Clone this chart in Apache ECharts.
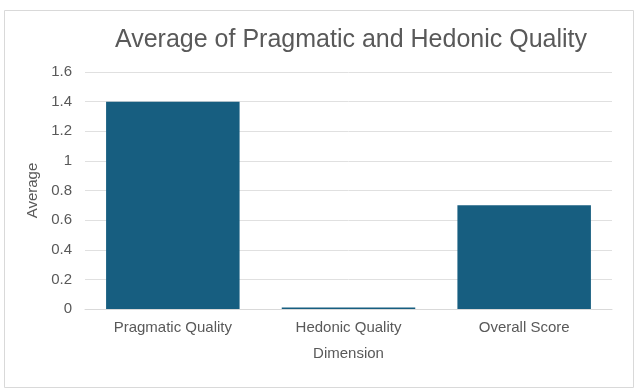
<!DOCTYPE html>
<html>
<head>
<meta charset="utf-8">
<script src="https://cdn.jsdelivr.net/npm/echarts@6/dist/echarts.min.js"></script>
<style>
html,body{margin:0;padding:0;background:#fff;}
#c{width:634px;height:390px;}
</style>
</head>
<body>
<div id="c"></div>
<script>
const categories = ["Pragmatic Quality", "Hedonic Quality", "Overall Score"];
const averages = [1.4, 0.01, 0.70];
const titleText = "Average of Pragmatic and Hedonic Quality";
const xName = "Dimension";
const yName = "Average";

const chart = echarts.init(document.getElementById('c'), null, {renderer: 'canvas'});
const font = "'Liberation Sans', Arial, Helvetica, sans-serif";
chart.setOption({
  animation: false,
  textStyle: {fontFamily: font},
  graphic: [{
    type: 'rect', left: 2, top: 8, silent: true,
    shape: {width: 629, height: 377},
    style: {fill: 'none', stroke: '#d9d9d9', lineWidth: 1}
  }],
  title: {
    text: titleText, left: 346, top: 23, textAlign: 'center',
    textStyle: {fontFamily: font, fontSize: 25, fontWeight: 'normal', color: '#595959'}
  },
  grid: {left: 85, right: 22, top: 72, bottom: 81},
  xAxis: {
    type: 'category', data: categories,
    name: xName, nameLocation: 'middle', nameGap: 37,
    nameTextStyle: {fontFamily: font, fontSize: 15, color: '#595959'},
    axisLine: {show: true, lineStyle: {color: '#d9d9d9'}},
    axisTick: {show: false},
    axisLabel: {fontFamily: font, fontSize: 15, color: '#595959', margin: 11}
  },
  yAxis: {
    type: 'value', min: 0, max: 1.6, interval: 0.2,
    name: yName, nameLocation: 'middle', nameGap: 43, nameRotate: 90,
    nameTextStyle: {fontFamily: font, fontSize: 15, color: '#595959'},
    axisLine: {show: false}, axisTick: {show: false},
    axisLabel: {fontFamily: font, fontSize: 15, color: '#595959', margin: 13,
      formatter: v => String(Math.round(v * 10) / 10)},
    splitLine: {lineStyle: {color: '#e0e0e0'}}
  },
  series: [{
    type: 'bar', data: averages, barWidth: '76%',
    itemStyle: {color: '#175e80'}
  }]
});
</script>
</body>
</html>
